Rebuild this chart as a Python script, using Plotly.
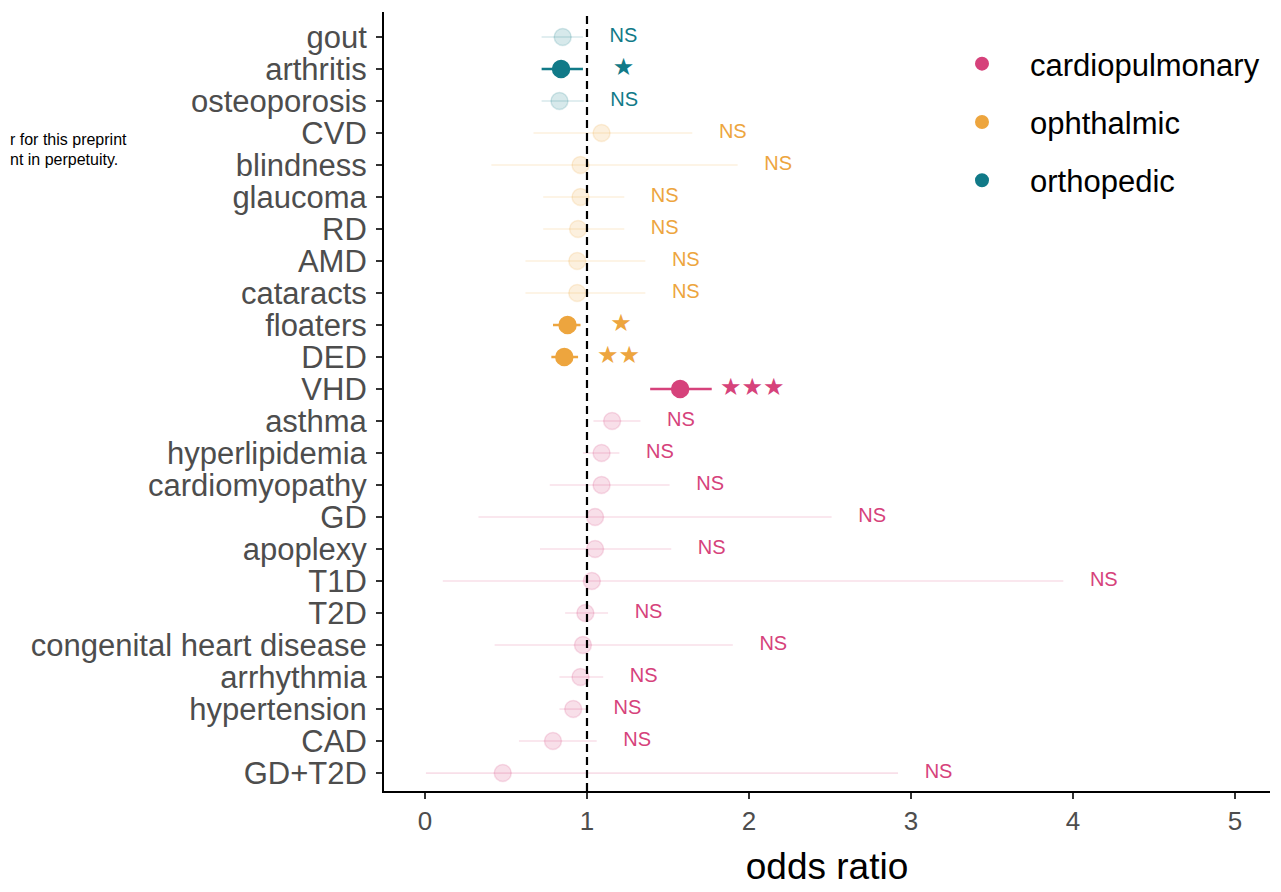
import plotly.graph_objects as go

# ---------------- data ----------------
categories = ["gout", "arthritis", "osteoporosis", "CVD", "blindness", "glaucoma", "RD", "AMD",
              "cataracts", "floaters", "DED", "VHD", "asthma", "hyperlipidemia", "cardiomyopathy",
              "GD", "apoplexy", "T1D", "T2D", "congenital heart disease", "arrhythmia",
              "hypertension", "CAD", "GD+T2D"]
groups = (["orthopedic"] * 3 + ["ophthalmic"] * 8 + ["cardiopulmonary"] * 13)
odds_ratio = [0.85, 0.84, 0.83, 1.09, 0.96, 0.96, 0.945, 0.94, 0.94, 0.88, 0.86, 1.575, 1.155,
              1.09, 1.09, 1.05, 1.05, 1.03, 0.99, 0.975, 0.96, 0.915, 0.79, 0.48]
ci_low = [0.72, 0.72, 0.72, 0.67, 0.41, 0.73, 0.73, 0.62, 0.62, 0.79, 0.78, 1.39, 1.04,
          0.975, 0.77, 0.33, 0.71, 0.11, 0.865, 0.43, 0.83, 0.83, 0.58, 0.006]
ci_high = [0.975, 0.975, 0.98, 1.65, 1.93, 1.23, 1.23, 1.36, 1.36, 0.96, 0.945, 1.77, 1.33,
           1.2, 1.51, 2.51, 1.52, 3.94, 1.13, 1.9, 1.1, 1.0, 1.06, 2.92]
significance = ["NS", "*", "NS", "NS", "NS", "NS", "NS", "NS", "NS", "*", "**", "***", "NS",
                "NS", "NS", "NS", "NS", "NS", "NS", "NS", "NS", "NS", "NS", "NS"]
group_order = ["cardiopulmonary", "ophthalmic", "orthopedic"]
group_colors = {"cardiopulmonary": "#D6427B", "ophthalmic": "#EDA53E", "orthopedic": "#117A88"}
label_offset = 0.25
x_ticks = [0, 1, 2, 3, 4, 5]
watermark_lines = ["r for this preprint", "nt in perpetuity."]

n = len(categories)
ypos = [n - 1 - i for i in range(n)]  # top to bottom

# page body has an 8px margin; figure geometry compensates for it
W, H = 1273, 884
L, R, T, B = 376, 11, 4, 101
PW, PH = W - L - R, H - T - B


def rgba(hex_color, a):
    h = hex_color.lstrip("#")
    r, g, b = int(h[0:2], 16), int(h[2:4], 16), int(h[4:6], 16)
    return f"rgba({r},{g},{b},{a})"


fig = go.Figure()

for grp in group_order:
    col = group_colors[grp]
    for sig in (False, True):
        idx = [i for i in range(n) if groups[i] == grp and (significance[i] != "NS") == sig]
        if not idx:
            continue
        c = col if sig else rgba(col, 0.17)
        fig.add_trace(go.Scatter(
            x=[odds_ratio[i] for i in idx],
            y=[ypos[i] for i in idx],
            mode="markers",
            name=grp,
            legendgroup=grp,
            showlegend=sig,
            marker=dict(symbol="circle", size=17, color=c,
                        line=dict(color=c, width=1.5)),
            error_x=dict(type="data", symmetric=False,
                         array=[ci_high[i] - odds_ratio[i] for i in idx],
                         arrayminus=[odds_ratio[i] - ci_low[i] for i in idx],
                         color=c, thickness=2.5 if sig else 1.6, width=0),
        ))

# significance labels
for grp in group_order:
    col = group_colors[grp]
    idx = [i for i in range(n) if groups[i] == grp]
    fig.add_trace(go.Scatter(
        x=[ci_high[i] + label_offset for i in idx],
        y=[ypos[i] for i in idx],
        mode="text",
        text=[("★" * len(significance[i])) if significance[i] != "NS" else "NS" for i in idx],
        textfont=dict(
            size=[24 if significance[i] != "NS" else 20 for i in idx],
            color=col, family="Liberation Sans, Arial, DejaVu Sans"),
        textposition="middle center",
        showlegend=False,
        hoverinfo="skip",
    ))

# reference line at OR = 1
fig.add_shape(type="line", x0=1, x1=1, y0=0, y1=1, xref="x", yref="paper",
              line=dict(color="black", width=2.2, dash="8px,5px"))

for k, line in enumerate(watermark_lines):
    fig.add_annotation(
        text=line, xref="paper", yref="paper",
        x=(0 - L) / PW, y=1 - ((131 + 20 * k) - T) / PH,
        xanchor="left", yanchor="middle", align="left", showarrow=False,
        font=dict(size=16, color="black", family="Liberation Sans, Arial"),
    )

fig.update_layout(
    width=W, height=H,
    margin=dict(l=L, r=R, t=T, b=B, autoexpand=False),
    plot_bgcolor="white", paper_bgcolor="white",
    font=dict(family="Liberation Sans, Arial", color="#4D4D4D"),
    showlegend=True,
    legend=dict(x=(934 - 8 - L) / PW, y=1 - (37 - 8 - T) / PH, xanchor="left", yanchor="top",
                font=dict(size=31, color="black"), tracegroupgap=15, itemwidth=86,
                itemsizing="constant", bgcolor="rgba(0,0,0,0)"),
    xaxis=dict(range=[-0.253, 5.216], tickvals=x_ticks, automargin=False,
               showline=True, linecolor="black", linewidth=2, mirror=False,
               ticks="outside", ticklen=6, tickwidth=1.5, tickcolor="#333333",
               showgrid=False, zeroline=False,
               tickfont=dict(size=26, color="#4D4D4D"),
               title=dict(text="odds ratio", font=dict(size=37, color="black"), standoff=18)),
    yaxis=dict(range=[-0.56, n - 1 + 0.78], tickvals=ypos, ticktext=categories, automargin=False,
               showline=True, linecolor="black", linewidth=2,
               ticks="outside", ticklen=6, tickwidth=1.5, tickcolor="#333333",
               ticklabelstandoff=3,
               showgrid=False, zeroline=False,
               tickfont=dict(size=31, color="#4D4D4D")),
)

fig.write_html("out.html")
